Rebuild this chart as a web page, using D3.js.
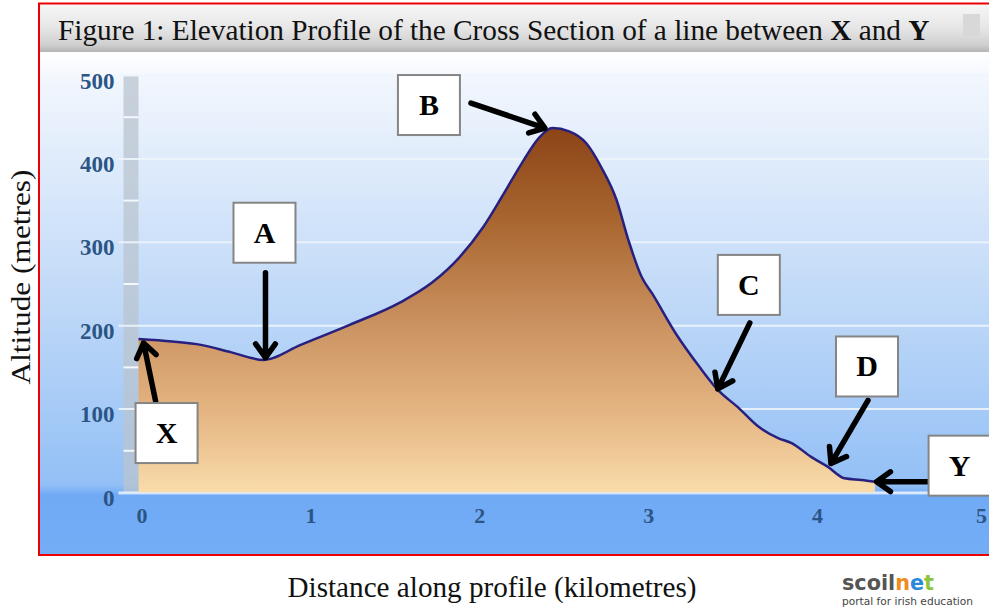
<!DOCTYPE html>
<html><head><meta charset="utf-8">
<script src="https://cdn.jsdelivr.net/npm/d3@7/dist/d3.min.js"></script>
<style>body{margin:0;background:#fff;}svg{display:block;}</style>
</head><body><svg id="c" width="989" height="607"></svg>
<script>
// ---- data ----
const distanceKm = [0, 0.2, 0.37, 0.55, 0.74, 0.96, 1.25, 1.55, 1.74, 1.90, 2.04, 2.15, 2.27, 2.37, 2.45, 2.55, 2.65, 2.74, 2.83, 2.90, 2.98, 3.04, 3.18, 3.32, 3.43, 3.55, 3.67, 3.79, 3.87, 3.98, 4.08, 4.18, 4.28, 4.36];
const altitudeM  = [184, 181, 177, 168, 159, 177, 201, 228, 252, 282, 318, 354, 395, 425, 437, 433, 419, 390, 351, 303, 258, 239, 191, 151, 123, 102, 79, 65, 59, 43, 31, 17, 15, 13];
const xTicks = [0, 1, 2, 3, 4, 5];
const yTicks = [0, 100, 200, 300, 400, 500];
const yMinorTicks = [50, 150, 250, 350, 450];
const pointLabels = ["X", "A", "B", "C", "D", "Y"];
const pointKm     = [0.03, 0.74, 2.43, 3.43, 4.10, 4.37];
const pointAlt    = [184, 158, 437, 123, 30, 13];
const titleParts = [["Figure 1: Elevation Profile of the Cross Section of a line between ", false], ["X", true], [" and ", false], ["Y", true]];
const xTitle = "Distance along profile (kilometres)";
const yTitle = "Altitude (metres)";

// ---- layout ----
const svg = d3.select("#c");
const x = d3.scaleLinear().domain([0, 5]).range([138.5, 983]);
const y = d3.scaleLinear().domain([0, 500]).range([492.5, 75.5]);
const serif = "'Liberation Serif', 'Times New Roman', serif";

const defs = svg.append("defs");
const bg = defs.append("linearGradient").attr("id", "bg").attr("gradientUnits", "userSpaceOnUse")
  .attr("x1", 0).attr("y1", 52).attr("x2", 0).attr("y2", 555);
[[0, "#ffffff"], [0.06, "#f1f6fd"], [0.3, "#d6e6fa"], [0.55, "#b9d5f7"], [0.86, "#93c0f6"], [0.88, "#70aaf5"], [1, "#74adf6"]]
  .forEach(s => bg.append("stop").attr("offset", s[0]).attr("stop-color", s[1]));
const tb = defs.append("linearGradient").attr("id", "tb").attr("x1", 0).attr("y1", 0).attr("x2", 0).attr("y2", 1);
[[0, "#f7f7f7"], [0.5, "#e6e6e6"], [0.85, "#cfcfcf"], [1, "#b5b5b5"]]
  .forEach(s => tb.append("stop").attr("offset", s[0]).attr("stop-color", s[1]));
const fg = defs.append("linearGradient").attr("id", "fg").attr("gradientUnits", "userSpaceOnUse")
  .attr("x1", 0).attr("y1", y(437)).attr("x2", 0).attr("y2", y(0));
[[0, "#8c4417"], [0.25, "#a8652f"], [0.55, "#cc9463"], [0.78, "#e4b582"], [1, "#f9dcaa"]]
  .forEach(s => fg.append("stop").attr("offset", s[0]).attr("stop-color", s[1]));

// background
svg.append("rect").attr("x", 39).attr("y", 52).attr("width", 950).attr("height", 503).attr("fill", "url(#bg)");
svg.append("rect").attr("x", 39).attr("y", 4).attr("width", 950).attr("height", 48).attr("fill", "url(#tb)");
svg.append("rect").attr("x", 963).attr("y", 14).attr("width", 17).attr("height", 22).attr("fill", "#d8d8d8");

// wall
svg.append("rect").attr("x", x(0) - 15).attr("y", y(500)).attr("width", 15).attr("height", y(0) - y(500))
  .attr("fill", "#b9c4cf").attr("opacity", 0.75);

// gridlines
svg.selectAll(".grid").data(yTicks).join("line")
  .attr("x1", x(0) - 20).attr("x2", 989).attr("y1", d => y(d)).attr("y2", d => y(d))
  .attr("stroke", "#eef5fd").attr("stroke-width", 2).attr("opacity", 0.9);
svg.selectAll(".minor").data(yMinorTicks).join("line")
  .attr("x1", x(0) - 15).attr("x2", x(0)).attr("y1", d => y(d)).attr("y2", d => y(d))
  .attr("stroke", "#f4f8fc").attr("stroke-width", 2);

// area + line
const pts = distanceKm.map((d, i) => [d, altitudeM[i]]);
const area = d3.area().x(d => x(d[0])).y0(y(0)).y1(d => y(d[1])).curve(d3.curveMonotoneX);
const line = d3.line().x(d => x(d[0])).y(d => y(d[1])).curve(d3.curveMonotoneX);
svg.append("path").datum(pts).attr("d", area).attr("fill", "url(#fg)");
svg.append("path").datum(pts).attr("d", line).attr("fill", "none").attr("stroke", "#27207f").attr("stroke-width", 2.5);
svg.append("line").attr("x1", x(0) - 20).attr("x2", 989).attr("y1", y(0) + 1).attr("y2", y(0) + 1)
  .attr("stroke", "#dcebfb").attr("stroke-width", 2).attr("opacity", 0.8);

// axes
const yAxis = svg.append("g").attr("transform", `translate(${x(0) - 22},0)`)
  .call(d3.axisLeft(y).tickValues(yTicks).tickSize(0).tickPadding(2).tickFormat(d3.format("d")));
yAxis.select(".domain").remove();
yAxis.selectAll("text").attr("dy", "0.55em").attr("font-family", serif).attr("font-weight", "bold")
  .attr("font-size", 23).attr("fill", "#2b5585");
const xAxis = svg.append("g").attr("transform", `translate(0,${y(0) + 12})`)
  .call(d3.axisBottom(x).tickValues(xTicks).tickSize(0).tickPadding(3).tickFormat(d3.format("d")));
xAxis.select(".domain").remove();
xAxis.selectAll("text").attr("font-family", serif).attr("font-weight", "bold")
  .attr("font-size", 22).attr("fill", "#2b5585").attr("dx", d => d === 5 ? -2 : 3);

// red frame
svg.append("path").attr("d", "M989,3.5H39V555H989").attr("fill", "none").attr("stroke", "#ee0000").attr("stroke-width", 2);

// title (horizontally condensed via group scale)
const tg = svg.append("g");
const t = tg.append("text").attr("x", 0).attr("y", 0).attr("font-family", serif).attr("font-size", 30).attr("fill", "#111");
titleParts.forEach(p => t.append("tspan").text(p[0]).attr("font-weight", p[1] ? "bold" : "normal"));
const tw = t.node().getComputedTextLength();
tg.attr("transform", `translate(58,40) scale(${872 / tw},1)`);

// axis titles
svg.append("text").attr("transform", "translate(30,277) rotate(-90)").attr("text-anchor", "middle")
  .attr("font-family", serif).attr("font-size", 28).attr("fill", "#111")
  .attr("textLength", 215).attr("lengthAdjust", "spacingAndGlyphs").text(yTitle);
svg.append("text").attr("x", 492).attr("y", 597).attr("text-anchor", "middle")
  .attr("font-family", serif).attr("font-size", 29).attr("fill", "#111")
  .attr("textLength", 409).attr("lengthAdjust", "spacingAndGlyphs").text(xTitle);

// annotations: box centre offset and arrow tail offset relative to arrow tip
const annLayout = {
  X: {tip: [0, 4],  tail: [12, 58],  box: [23, 90]},
  A: {tip: [2, -3], tail: [0, -85],  box: [-1, -125]},
  B: {tip: [-4, 0], tail: [-74, -25], box: [-116, -23]},
  C: {tip: [0, -1], tail: [32, -66], box: [31, -104]},
  D: {tip: [0, -4], tail: [37, -63], box: [36, -97]},
  Y: {tip: [0, 0],  tail: [51, 0],   box: [83, -16]}
};
const ann = svg.append("g");
pointLabels.forEach((lab, i) => {
  const L = annLayout[lab];
  const tx = x(pointKm[i]) + L.tip[0], ty = y(pointAlt[i]) + L.tip[1];
  const sx = tx + L.tail[0], sy = ty + L.tail[1];
  const ang = Math.atan2(ty - sy, tx - sx), h = 17, w = 0.62;
  const w1 = [tx - h * Math.cos(ang - w), ty - h * Math.sin(ang - w)];
  const w2 = [tx - h * Math.cos(ang + w), ty - h * Math.sin(ang + w)];
  ann.append("path").attr("d", `M${sx},${sy}L${tx},${ty}M${w1}L${tx},${ty}L${w2}`)
    .attr("fill", "none").attr("stroke", "#000").attr("stroke-width", 5.5)
    .attr("stroke-linecap", "round").attr("stroke-linejoin", "round");
  const bx = tx + L.box[0], by = ty + L.box[1];
  ann.append("rect").attr("x", bx - 31).attr("y", by - 30).attr("width", 62).attr("height", 60)
    .attr("fill", "#fff").attr("stroke", "#858585").attr("stroke-width", 2);
  ann.append("text").attr("x", bx).attr("y", by + 10).attr("text-anchor", "middle")
    .attr("font-family", serif).attr("font-weight", "bold").attr("font-size", 30).attr("fill", "#000").text(lab);
});

// logo
const logo = svg.append("text").attr("x", 842).attr("y", 590).attr("font-family", "'DejaVu Sans', sans-serif")
  .attr("font-weight", "bold").attr("font-size", 21).attr("textLength", 92).attr("lengthAdjust", "spacingAndGlyphs");
[["scoil", "#555555"], ["n", "#f08c1e"], ["e", "#2a8ad8"], ["t", "#8cc63e"]]
  .forEach(p => logo.append("tspan").text(p[0]).attr("fill", p[1]));
svg.append("text").attr("x", 842).attr("y", 605).attr("font-family", "'DejaVu Sans', sans-serif")
  .attr("font-size", 10).attr("fill", "#444").attr("textLength", 131).attr("lengthAdjust", "spacingAndGlyphs")
  .text("portal for irish education");
</script></body></html>
